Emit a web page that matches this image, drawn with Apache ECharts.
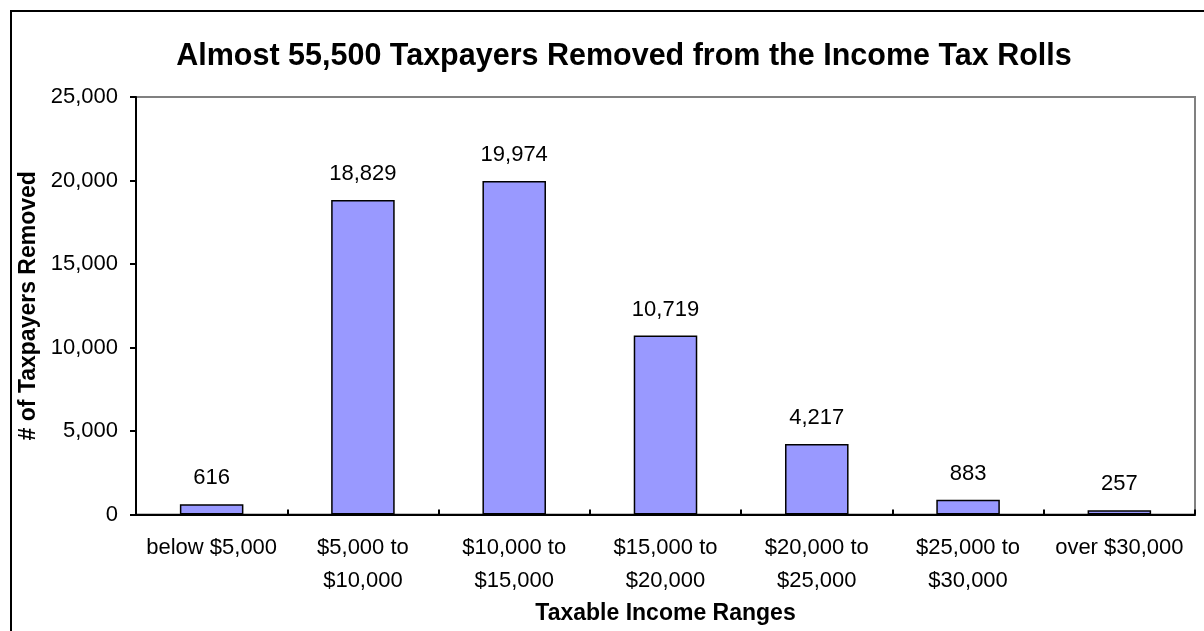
<!DOCTYPE html>
<html>
<head>
<meta charset="utf-8">
<script src="https://cdn.jsdelivr.net/npm/echarts@6/dist/echarts.min.js"></script>
<style>
  html, body { margin: 0; padding: 0; background: #fff; }
  #chart { width: 1204px; height: 631px; }
</style>
</head>
<body>
<div id="chart"></div>
<script>
// Income ranges and the number of taxpayers removed in each
const categories = ['below $5,000', '$5,000 to\n$10,000', '$10,000 to\n$15,000', '$15,000 to\n$20,000', '$20,000 to\n$25,000', '$25,000 to\n$30,000', 'over $30,000'];
const removed = [616, 18829, 19974, 10719, 4217, 883, 257];
const yTicks = [0, 5000, 10000, 15000, 20000, 25000];

const FONT = '"Liberation Sans", Arial, sans-serif';
const fmt = v => v.toLocaleString('en-US');

const chart = echarts.init(document.getElementById('chart'), null, { renderer: 'canvas' });
chart.setOption({
  animation: false,
  backgroundColor: '#fff',
  textStyle: { fontFamily: FONT },
  title: {
    text: 'Almost 55,500 Taxpayers Removed from the Income Tax Rolls',
    left: 619,
    textAlign: 'center',
    top: 36,
    textStyle: { fontFamily: FONT, fontSize: 30.5, fontWeight: 'bold', color: '#000' }
  },
  graphic: [{
    type: 'rect',
    shape: { x: 11, y: 11, width: 1400, height: 800 },
    style: { fill: null, stroke: '#000', lineWidth: 2 },
    silent: true
  }],
  grid: {
    left: 136, right: 9, top: 97, bottom: 116.5,
    show: true, borderColor: '#808080', borderWidth: 2, backgroundColor: 'transparent'
  },
  xAxis: {
    type: 'category',
    data: categories,
    name: 'Taxable Income Ranges',
    nameLocation: 'middle',
    nameGap: 87,
    nameTextStyle: { fontFamily: FONT, fontSize: 23, fontWeight: 'bold', color: '#000' },
    axisLine: { lineStyle: { color: '#000', width: 2 } },
    axisTick: { show: true, inside: true, length: 5, lineStyle: { color: '#000', width: 2 } },
    axisLabel: { margin: 17, fontFamily: FONT, fontSize: 22, color: '#000', lineHeight: 33, interval: 0 }
  },
  yAxis: {
    type: 'value',
    min: yTicks[0],
    max: yTicks[yTicks.length - 1],
    interval: yTicks[1] - yTicks[0],
    name: '# of Taxpayers Removed',
    nameLocation: 'middle',
    nameGap: 88,
    nameRotate: 90,
    nameTextStyle: { fontFamily: FONT, fontSize: 23, fontWeight: 'bold', color: '#000' },
    axisLine: { show: true, lineStyle: { color: '#000', width: 2 } },
    axisTick: { show: true, length: 6, lineStyle: { color: '#000', width: 2 } },
    splitLine: { show: false },
    axisLabel: { margin: 18, fontFamily: FONT, fontSize: 22, color: '#000', formatter: fmt }
  },
  series: [{
    type: 'bar',
    data: removed,
    barWidth: '42%',
    itemStyle: { color: '#9999FF', borderColor: '#000', borderWidth: 1.5 },
    label: {
      show: true, position: 'top', distance: 15,
      fontFamily: FONT, fontSize: 22, color: '#000',
      formatter: p => fmt(p.value)
    }
  }]
});
</script>
</body>
</html>
